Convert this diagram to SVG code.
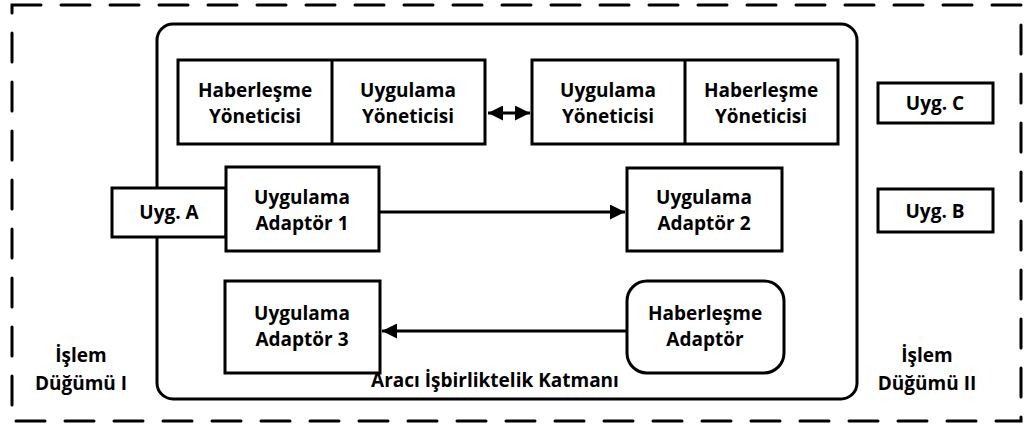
<svg xmlns="http://www.w3.org/2000/svg" width="1027" height="425" viewBox="0 0 1027 425">
<style>
.b{fill:#fff;stroke:#000;stroke-width:3}
.t{font-family:"Open Sans","Liberation Sans",sans-serif;font-weight:bold;font-size:19px;fill:#000;text-anchor:middle}
.c{stroke:#000;stroke-width:3;fill:none}
</style>
<defs>
<marker id="ah" viewBox="0 0 10 10" refX="10" refY="5" markerWidth="5" markerHeight="5" markerUnits="strokeWidth" orient="auto-start-reverse">
<path d="M0,0 L10,5 L0,10 Z" fill="#000"/>
</marker>
</defs>
<rect x="12" y="5" width="1009" height="416" fill="none" stroke="#000" stroke-width="3" stroke-dasharray="29 20" stroke-linecap="round"/>
<g id="layer">
<rect x="157" y="24" width="700" height="375" rx="16" class="b"/>
<text class="t" x="495" y="387">Aracı İşbirliktelik Katmanı</text>
</g>
<g id="connectors">
<line x1="488" y1="113" x2="530" y2="113" class="c" marker-start="url(#ah)" marker-end="url(#ah)"/>
<line x1="379" y1="212" x2="625" y2="212" class="c" marker-end="url(#ah)"/>
<line x1="627" y1="331" x2="382" y2="331" class="c" marker-end="url(#ah)"/>
</g>
<g id="yonetici1">
<rect x="178" y="60" width="307" height="84" class="b"/>
<line x1="332" y1="60" x2="332" y2="144" class="c"/>
<text class="t" x="255" y="97">Haberleşme</text>
<text class="t" x="255" y="123">Yöneticisi</text>
<text class="t" x="408" y="97">Uygulama</text>
<text class="t" x="408" y="123">Yöneticisi</text>
</g>
<g id="yonetici2">
<rect x="532" y="60" width="306" height="84" class="b"/>
<line x1="685" y1="60" x2="685" y2="144" class="c"/>
<text class="t" x="608" y="97">Uygulama</text>
<text class="t" x="608" y="123">Yöneticisi</text>
<text class="t" x="761" y="97">Haberleşme</text>
<text class="t" x="761" y="123">Yöneticisi</text>
</g>
<g id="uygA">
<rect x="112" y="188" width="114" height="49" class="b"/>
<text class="t" x="169" y="219">Uyg. A</text>
</g>
<g id="adaptor1">
<rect x="226" y="167" width="153" height="84" class="b"/>
<text class="t" x="302" y="204">Uygulama</text>
<text class="t" x="302" y="230">Adaptör 1</text>
</g>
<g id="adaptor2">
<rect x="627" y="168" width="155" height="83" class="b"/>
<text class="t" x="704" y="204">Uygulama</text>
<text class="t" x="704" y="230">Adaptör 2</text>
</g>
<g id="adaptor3">
<rect x="225" y="281" width="155" height="92" class="b"/>
<text class="t" x="302" y="320">Uygulama</text>
<text class="t" x="302" y="346">Adaptör 3</text>
</g>
<g id="habAdaptor">
<rect x="627" y="281" width="157" height="92" rx="20" class="b"/>
<text class="t" x="705" y="320">Haberleşme</text>
<text class="t" x="705" y="346">Adaptör</text>
</g>
<g id="uygC">
<rect x="878" y="83" width="115" height="40" class="b"/>
<text class="t" x="935" y="110">Uyg. C</text>
</g>
<g id="uygB">
<rect x="878" y="189" width="115" height="43" class="b"/>
<text class="t" x="935" y="218">Uyg. B</text>
</g>
<g id="dugum1">
<text class="t" x="81" y="362">İşlem</text>
<text class="t" x="81" y="390">Düğümü I</text>
</g>
<g id="dugum2">
<text class="t" x="927" y="362">İşlem</text>
<text class="t" x="927" y="390">Düğümü II</text>
</g>
</svg>
